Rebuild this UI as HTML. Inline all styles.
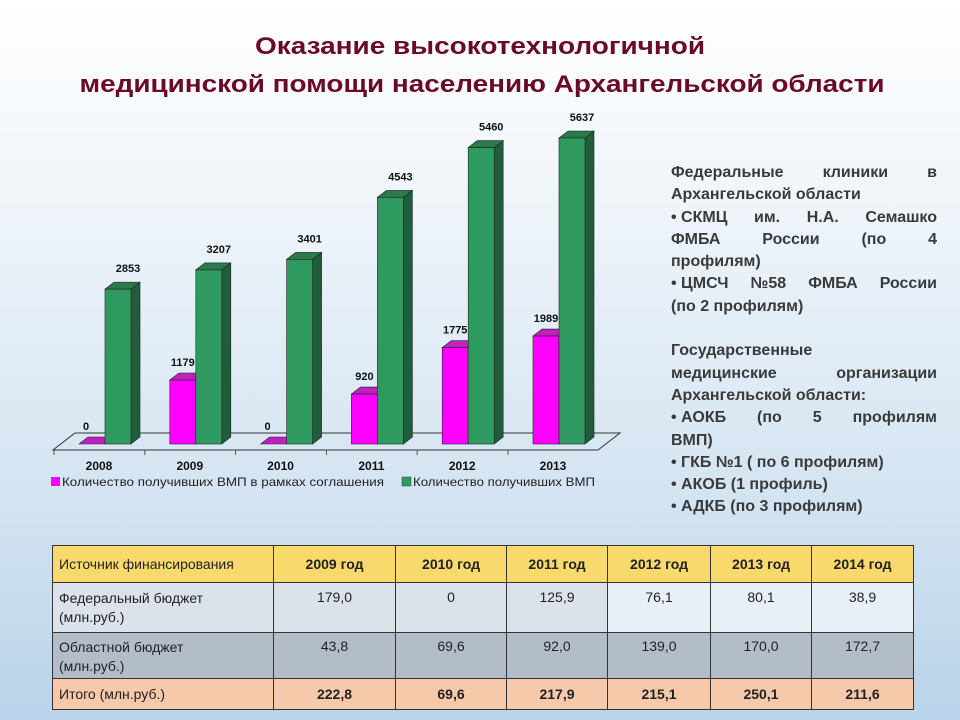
<!DOCTYPE html>
<html><head><meta charset="utf-8">
<style>
html,body{margin:0;padding:0}
body{width:960px;height:720px;overflow:hidden;position:relative;background:linear-gradient(#ffffff 0%,#eef4fa 30%,#cfe1f0 75%,#b9d3ea 100%);font-family:"Liberation Sans",sans-serif}
#side{position:absolute;left:671px;top:162px;width:266px;font-weight:bold;font-size:16px;color:#3a3a3a;line-height:22.3px}
#side div{white-space:nowrap}
#side .j{text-align:justify;text-align-last:justify;white-space:normal}
#side .b{display:inline-block}
table{position:absolute;left:52px;top:545px;border-collapse:collapse;font-family:"Liberation Sans Narrow","Liberation Sans",sans-serif;font-size:14px;color:#222}
td{border:1px solid #333;padding:0 6px;vertical-align:top}
td.n{text-align:center}
</style></head><body>
<svg width="960" height="720" style="position:absolute;left:0;top:0">
<text x="480" y="54" text-anchor="middle" font-size="24" font-weight="bold" fill="#6b0a26" textLength="450" lengthAdjust="spacingAndGlyphs">Оказание высокотехнологичной</text>
<text x="482" y="92" text-anchor="middle" font-size="24" font-weight="bold" fill="#6b0a26" textLength="805" lengthAdjust="spacingAndGlyphs">медицинской помощи населению Архангельской области</text>
<polygon points="53,450 598,450 620,433 75,433" fill="none" stroke="#333" stroke-width="1"/>
<g id="bars"></g>
<rect x="51" y="477" width="9" height="9" fill="#ff00ff"/>
<text x="62" y="486" font-size="12" fill="#222" textLength="322" lengthAdjust="spacingAndGlyphs">Количество получивших  ВМП в рамках  соглашения</text>
<rect x="402" y="477" width="9" height="9" fill="#2e9a60" stroke="#1e5e3a" stroke-width="0.5"/>
<text x="413" y="486" font-size="12" fill="#222" textLength="182" lengthAdjust="spacingAndGlyphs">Количество получивших  ВМП</text>
</svg>
<script>
const years=["2008","2009","2010","2011","2012","2013"];
const agreementVals=[0,1179,0,920,1775,1989];
const totalVals=[2853,3207,3401,4543,5460,5637];
const NS="http://www.w3.org/2000/svg";
const g=document.getElementById("bars");
const svg=g.ownerSVGElement;
const base=444, k=(444-138)/5637, W=26, dx=9, dy=7;
function yv(v){return base-v*k;}
function xg(i){return 79+i*90.8;}
function mk(tag,attrs){const e=document.createElementNS(NS,tag);for(const a in attrs)e.setAttribute(a,attrs[a]);return e;}
function bar(x,v,front,side,top,name){
  const yt=yv(v);
  const gg=mk("g",{});
  
  
  gg.appendChild(mk("polygon",{points:`${x+W},${yt} ${x+W+dx},${yt-dy} ${x+W+dx},${base-dy} ${x+W},${base}`,fill:side,stroke:"#222","stroke-width":0.6}));
  gg.appendChild(mk("polygon",{points:`${x},${yt} ${x+dx},${yt-dy} ${x+W+dx},${yt-dy} ${x+W},${yt}`,fill:top,stroke:"#222","stroke-width":0.6}));
  if(v>0)gg.appendChild(mk("rect",{x:x,y:yt,width:W,height:base-yt,fill:front,stroke:"#222","stroke-width":0.6}));
  g.appendChild(gg);
}
function label(x,y,t,name){
  const e=mk("text",{x:x,y:y,"text-anchor":"middle","font-size":11,"font-weight":"bold",fill:"#111"});
  e.textContent=t;
  
  
  svg.appendChild(e);
}
years.forEach((yr,i)=>{
  const x=xg(i);
  bar(x,agreementVals[i],"#ff00ff","#b000b0","#c020c0","bar-agreement-"+yr);
  bar(x+W,totalVals[i],"#2e9a60","#1f5e3c","#2b7a4c","bar-total-"+yr);
  label(x+W/2-(agreementVals[i]===0?6:0),yv(agreementVals[i])-14,String(agreementVals[i]),"value-agreement-"+yr);
  label(x+W*1.5+10,yv(totalVals[i])-17,String(totalVals[i]),"value-total-"+yr);
  const t=mk("text",{x:x+W-6,y:470,"text-anchor":"middle","font-size":12,"font-weight":"bold",fill:"#111"});
  t.textContent=yr;
  
  
  svg.appendChild(t);
  const tk=mk("line",{x1:x+W-51,y1:450,x2:x+W-51,y2:455,stroke:"#555"});
  
  
  svg.appendChild(tk);
});
</script>
<div id="side">
<div class="j">Федеральные клиники в</div>
<div>Архангельской области</div>
<div class="j"><span class="b">•&nbsp;СКМЦ</span> им. Н.А. Семашко</div>
<div class="j">ФМБА России (по 4</div>
<div>профилям)</div>
<div class="j"><span class="b">•&nbsp;ЦМСЧ</span> <span class="b">№58</span> ФМБА России</div>
<div>(по 2 профилям)</div>
<div>&nbsp;</div>
<div>Государственные</div>
<div class="j">медицинские организации</div>
<div>Архангельской области:</div>
<div class="j"><span class="b">•&nbsp;АОКБ</span> (по 5 профилям</div>
<div>ВМП)</div>
<div>• ГКБ №1 ( по 6 профилям)</div>
<div>• АКОБ (1 профиль)</div>
<div>• АДКБ (по 3 профилям)</div>
</div>
<table>
<tr style="height:37px;background:#f8d96c"><td style="width:208px;vertical-align:middle">Источник финансирования</td><td class="n" style="width:109px;font-weight:bold;vertical-align:middle">2009 год</td><td class="n" style="width:98px;font-weight:bold;vertical-align:middle">2010 год</td><td class="n" style="width:88px;font-weight:bold;vertical-align:middle">2011 год</td><td class="n" style="width:90px;font-weight:bold;vertical-align:middle">2012 год</td><td class="n" style="width:88px;font-weight:bold;vertical-align:middle">2013 год</td><td class="n" style="width:89px;font-weight:bold;vertical-align:middle">2014 год</td></tr>
<tr style="height:50px;background:#dce2ea"><td style="padding-top:6px;line-height:19px">Федеральный бюджет<br>(млн.руб.)</td><td class="n" style="padding-top:6px">179,0</td><td class="n" style="padding-top:6px">0</td><td class="n" style="padding-top:6px">125,9</td><td class="n" style="padding-top:6px;background:#e8eff7">76,1</td><td class="n" style="padding-top:6px;background:#e8eff7">80,1</td><td class="n" style="padding-top:6px;background:#e8eff7">38,9</td></tr>
<tr style="height:46px;background:#b3bdca"><td style="padding-top:5px;line-height:19px">Областной бюджет<br>(млн.руб.)</td><td class="n" style="padding-top:5px">43,8</td><td class="n" style="padding-top:5px">69,6</td><td class="n" style="padding-top:5px">92,0</td><td class="n" style="padding-top:5px">139,0</td><td class="n" style="padding-top:5px">170,0</td><td class="n" style="padding-top:5px">172,7</td></tr>
<tr style="height:31px;background:#f5c9a9;font-weight:bold"><td style="font-weight:normal;vertical-align:middle">Итого (млн.руб.)</td><td class="n" style="vertical-align:middle">222,8</td><td class="n" style="vertical-align:middle">69,6</td><td class="n" style="vertical-align:middle">217,9</td><td class="n" style="vertical-align:middle">215,1</td><td class="n" style="vertical-align:middle">250,1</td><td class="n" style="vertical-align:middle">211,6</td></tr>
</table>
</body></html>
